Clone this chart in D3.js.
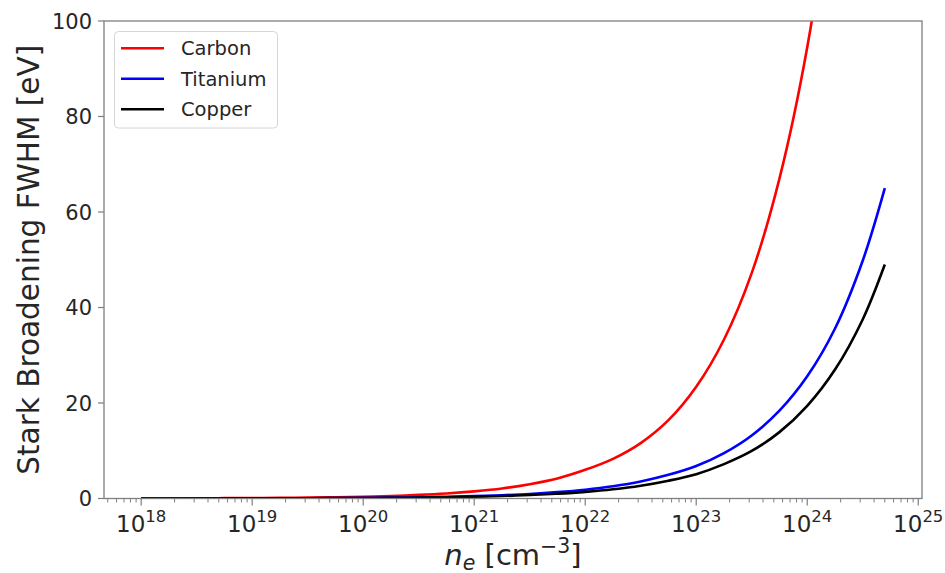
<!DOCTYPE html>
<html>
<head>
<meta charset="utf-8">
<script src="https://cdn.jsdelivr.net/npm/d3@7"></script>
<style>
  html, body { margin: 0; padding: 0; background: #fff; }
  svg { display: block; font-family: "DejaVu Sans", sans-serif; }
</style>
</head>
<body>
<svg id="chart" width="945" height="573"></svg>
<script>
// Electron density samples [cm^-3]
const density = [
  1e18, 1.78e18, 3.16e18, 5.62e18,
  1e19, 1.78e19, 3.16e19, 5.62e19,
  1e20, 1.78e20, 3.16e20, 5.62e20,
  1e21, 1.78e21, 3.16e21, 5.62e21,
  1e22, 1.78e22, 3.16e22, 5.62e22,
  1e23, 1.78e23, 3.16e23, 5.62e23,
  1e24, 1.78e24, 3.16e24, 5e24
];
// Stark broadening FWHM [eV] for each element
const carbon = [
  0.02, 0.03, 0.05, 0.07,
  0.1, 0.14, 0.19, 0.27,
  0.38, 0.53, 0.75, 1.06,
  1.5, 2.1, 3.0, 4.2,
  6.0, 8.3, 11.6, 16.4,
  23.4, 33.3, 47.2, 67,
  94.5, 134, 189, 249
];
const titanium = [
  0.0095, 0.013, 0.018, 0.025,
  0.035, 0.049, 0.068, 0.095,
  0.13, 0.18, 0.26, 0.36,
  0.49, 0.69, 0.95, 1.33,
  1.84, 2.56, 3.56, 4.95,
  6.8, 9.5, 13.2, 18.4,
  25.6, 35.6, 49.8, 65
];
const copper = [
  0.0072, 0.0098, 0.0136, 0.019,
  0.026, 0.037, 0.051, 0.072,
  0.098, 0.136, 0.196, 0.27,
  0.37, 0.52, 0.72, 1.0,
  1.39, 1.93, 2.68, 3.73,
  5.1, 7.2, 9.95, 13.9,
  19.4, 27.0, 37.5, 49
];
const seriesNames  = ["Carbon", "Titanium", "Copper"];
const seriesColors = ["#ff0000", "#0000ff", "#000000"];
const xTickExponents = [18, 19, 20, 21, 22, 23, 24, 25];
const yTicks = [0, 20, 40, 60, 80, 100];

const seriesValues = [carbon, titanium, copper];

const svg = d3.select("#chart");
const plot = { left: 104, right: 922, top: 21, bottom: 498.5 };

// log x-axis with 5% padding around the data range (in decades)
const lo = Math.log10(d3.min(density)), hi = Math.log10(d3.max(density));
const pad = (hi - lo) * 0.05;
const x = d3.scaleLog()
  .domain([Math.pow(10, lo - pad), Math.pow(10, hi + pad)])
  .range([plot.left, plot.right]);
const y = d3.scaleLinear().domain([0, 100]).range([plot.bottom, plot.top]);

const axisColor = "#7f7f7f";
const textColor = "#262626";

svg.append("defs").append("clipPath").attr("id", "plot-clip")
  .append("rect")
  .attr("x", plot.left).attr("y", plot.top)
  .attr("width", plot.right - plot.left).attr("height", plot.bottom - plot.top);

// curves
const line = d3.line()
  .x(d => x(d[0]))
  .y(d => y(d[1]))
  .curve(d3.curveCatmullRom.alpha(0.5));

const g = svg.append("g").attr("clip-path", "url(#plot-clip)");
seriesValues.forEach((vals, i) => {
  g.append("path")
    .datum(density.map((n, j) => [n, vals[j]]))
    .attr("d", line)
    .attr("fill", "none")
    .attr("stroke", seriesColors[i])
    .attr("stroke-width", 2.6)
    .attr("stroke-linejoin", "round");
});

// x axis: major + minor ticks
const xAxisG = svg.append("g").attr("transform", `translate(0,${plot.bottom})`);
const minorTicks = [];
for (let e = 17; e <= 25; e++) {
  for (let m = 2; m <= 9; m++) {
    const v = m * Math.pow(10, e);
    if (v > x.domain()[0] && v < x.domain()[1]) minorTicks.push(v);
  }
}
xAxisG.selectAll("line.minor").data(minorTicks).enter().append("line")
  .attr("x1", d => x(d)).attr("x2", d => x(d))
  .attr("y1", 0).attr("y2", 4)
  .attr("stroke", axisColor).attr("stroke-width", 1);
xAxisG.selectAll("line.major").data(xTickExponents).enter().append("line")
  .attr("x1", d => x(Math.pow(10, d))).attr("x2", d => x(Math.pow(10, d)))
  .attr("y1", 0).attr("y2", 7)
  .attr("stroke", axisColor).attr("stroke-width", 1.2);
const xLabels = xAxisG.selectAll("text.tick").data(xTickExponents).enter().append("text")
  .attr("x", d => x(Math.pow(10, d)))
  .attr("y", 33)
  .attr("text-anchor", "middle")
  .attr("fill", textColor)
  .attr("font-size", 23);
xLabels.append("tspan").text("10");
xLabels.append("tspan").attr("dy", -10).attr("font-size", 16.5).text(d => d);

// y axis
const yAxisG = svg.append("g");
yAxisG.selectAll("line").data(yTicks).enter().append("line")
  .attr("x1", plot.left - 6).attr("x2", plot.left)
  .attr("y1", d => y(d)).attr("y2", d => y(d))
  .attr("stroke", axisColor).attr("stroke-width", 1.2);
yAxisG.selectAll("text").data(yTicks).enter().append("text")
  .attr("x", plot.left - 12)
  .attr("y", d => y(d))
  .attr("dy", "0.36em")
  .attr("text-anchor", "end")
  .attr("fill", textColor)
  .attr("font-size", 21)
  .text(d => d);

// frame
svg.append("rect")
  .attr("x", plot.left).attr("y", plot.top)
  .attr("width", plot.right - plot.left).attr("height", plot.bottom - plot.top)
  .attr("fill", "none").attr("stroke", axisColor).attr("stroke-width", 1.3);

// axis titles
svg.append("text")
  .attr("transform", `translate(39,${(plot.top + plot.bottom) / 2}) rotate(-90)`)
  .attr("text-anchor", "middle")
  .attr("fill", textColor)
  .attr("font-size", 29.5)
  .text("Stark Broadening FWHM [eV]");

const xt = svg.append("text")
  .attr("x", (plot.left + plot.right) / 2)
  .attr("y", 565)
  .attr("text-anchor", "middle")
  .attr("fill", textColor)
  .attr("font-size", 29);
xt.append("tspan").attr("font-style", "italic").text("n");
xt.append("tspan").attr("font-style", "italic").attr("font-size", 20.5).attr("dy", 5).text("e");
xt.append("tspan").attr("dy", -5).text(" [cm");
xt.append("tspan").attr("font-size", 20.5).attr("dy", -12).text("\u22123");
xt.append("tspan").attr("dy", 12).text("]");

// legend
const lg = svg.append("g");
lg.append("rect")
  .attr("x", 114.5).attr("y", 31.5).attr("width", 163).attr("height", 96.5)
  .attr("rx", 4).attr("fill", "#fff").attr("fill-opacity", 0.8)
  .attr("stroke", "#d6d6d6").attr("stroke-width", 1);
seriesNames.forEach((name, i) => {
  const cy = 48.3 + i * 30.5;
  lg.append("line")
    .attr("x1", 121).attr("x2", 164).attr("y1", cy).attr("y2", cy)
    .attr("stroke", seriesColors[i]).attr("stroke-width", 2.6);
  lg.append("text")
    .attr("x", 181).attr("y", cy).attr("dy", "0.36em")
    .attr("fill", textColor).attr("font-size", 19.5)
    .text(name);
});
</script>
</body>
</html>
